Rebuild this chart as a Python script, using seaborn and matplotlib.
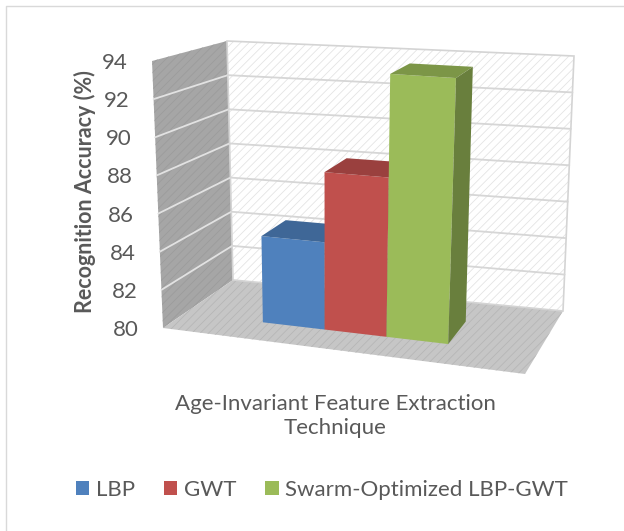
import numpy as np
import pandas as pd
import seaborn as sns
import matplotlib.pyplot as plt
import matplotlib.transforms as mtransforms
from matplotlib.colors import to_rgb
from matplotlib.patches import Rectangle

# dados
tecnicas = ["LBP", "GWT", "Swarm-Optimized LBP-GWT"]
acuracia = [84.6, 88.3, 93.7]
cores = ["#4F81BD", "#C0504D", "#9BBB59"]
ticks_y = [80, 82, 84, 86, 88, 90, 92, 94]
rotulo_y = "Recognition Accuracy (%)"
rotulo_x = "Age-Invariant Feature Extraction\nTechnique"

Y_MIN, Y_MAX = 80, 94

# cantos da "caixa" 3D em pixels: CAIXA[u][w][t]
# u = esquerda/direita, w = base/topo, t = frente/fundo
CAIXA = np.array([
    [[(163, 328), (233, 280)], [(152, 61), (227, 41)]],
    [[(525, 374), (563, 311)], [(540, 88), (574, 56)]],
], dtype=float)

U0, DU = 0.222, 0.1755      # início da primeira barra e largura de uma barra (em u)
T_FRENTE, T_FUNDO = 0.31, 0.69


def projetar(u, w, t):
    u = np.asarray(u, float)[..., None]
    w = np.asarray(w, float)[..., None]
    t = np.asarray(t, float)[..., None]
    out = 0
    for i, fu in ((0, 1 - u), (1, u)):
        for j, fw in ((0, 1 - w), (1, w)):
            for k, ft in ((0, 1 - t), (1, t)):
                out = out + fu * fw * ft * CAIXA[i, j, k]
    return out


def para_caixa(x, v):
    return U0 + (np.asarray(x) + 0.5) * DU, (np.asarray(v) - Y_MIN) / (Y_MAX - Y_MIN)


class PlanoBarras(mtransforms.Transform):
    # leva (posição categórica, valor) para o plano frontal das barras
    input_dims = 2
    output_dims = 2

    def __init__(self, t):
        super().__init__()
        self.t = t

    def transform_non_affine(self, values):
        values = np.asarray(values, float)
        u, w = para_caixa(values[:, 0], values[:, 1])
        return projetar(u, w, np.full(len(u), self.t))


sns.set_style("white")
plt.rcParams['font.family'] = ['Lato', 'DejaVu Sans']
plt.rcParams['hatch.linewidth'] = 0.6
COR_TEXTO = '#595959'

fig = plt.figure(figsize=(6.24, 5.31), dpi=100)
ax = fig.add_axes([0, 0, 1, 1])

df = pd.DataFrame({'tecnica': tecnicas, 'acuracia': acuracia})
df['acima'] = df.acuracia - Y_MIN

sns.barplot(data=df, x='tecnica', y='acima', hue='tecnica', palette=cores,
            saturation=1, width=1, bottom=Y_MIN, linewidth=0, ax=ax, legend=False,
            transform=PlanoBarras(T_FRENTE) + ax.transData)

barras = sorted(list(ax.patches), key=lambda b: b.get_x())
handles = [Rectangle((0, 0), 1, 1, facecolor=b.get_facecolor(), lw=0) for b in barras]


def face(us, ws, ts, **kw):
    pts = projetar(us, ws, ts)
    ax.fill(pts[:, 0], pts[:, 1], **kw)


# paredes e piso
face([0, 1, 1, 0], [0, 0, 1, 1], [1, 1, 1, 1], facecolor='white',
     edgecolor='#e4e4e4', hatch='////', lw=0, zorder=0)
face([0, 1, 1, 0], [0, 0, 1, 1], [1, 1, 1, 1], fill=False,
     edgecolor='#d4d4d4', lw=1.2, zorder=0.2)
face([0, 0, 0, 0], [0, 1, 1, 0], [0, 0, 1, 1], facecolor='#a6a6a6',
     edgecolor='#9c9c9c', hatch='////', lw=0, zorder=0)
face([0, 1, 1, 0], [0, 0, 0, 0], [0, 0, 1, 1], facecolor='#c6c6c6',
     edgecolor='#b6b6b6', hatch='////', lw=0, zorder=0)

# linhas de grade
for v in ticks_y[1:-1]:
    w = (v - Y_MIN) / (Y_MAX - Y_MIN)
    pts = projetar([0, 0, 1], [w, w, w], [0, 1, 1])
    ax.plot(pts[:2, 0], pts[:2, 1], color='#e2e2e2', lw=1.3, zorder=0.5)
    ax.plot(pts[1:, 0], pts[1:, 1], color='#d6d6d6', lw=1.3, zorder=0.5)

# topo e lateral das barras
for i, barra in enumerate(barras):
    barra.set_zorder(3 + 2 * i)
    x0, x1 = barra.get_x(), barra.get_x() + barra.get_width()
    v0, v1 = barra.get_y(), barra.get_y() + barra.get_height()
    u0, w0 = para_caixa(x0, v0)
    u1, w1 = para_caixa(x1, v1)
    base = np.array(to_rgb(barra.get_facecolor()))
    tf, tb = T_FRENTE, T_FUNDO
    face([u0, u1, u1, u0], [w1] * 4, [tf, tf, tb, tb], color=base * 0.8, lw=0, zorder=3.5 + 2 * i)
    face([u1] * 4, [w0, w1, w1, w0], [tf, tf, tb, tb], color=base * 0.68, lw=0, zorder=3.5 + 2 * i)

# rótulos do eixo y
for v in ticks_y:
    p = projetar(0, (v - Y_MIN) / (Y_MAX - Y_MIN), 0)
    ax.text(p[0] - 24, p[1] + 2, f"{v}", ha='right', va='center', fontsize=16, color=COR_TEXTO)

ax.text(85, 192, rotulo_y, rotation=90, ha='center', va='center',
        fontsize=15.5, fontweight='bold', color=COR_TEXTO)
ax.text(335, 416, rotulo_x, ha='center', va='center', fontsize=16,
        linespacing=1.25, color=COR_TEXTO)

fig.legend(handles, tecnicas, loc='center', bbox_to_anchor=(322 / 624, 1 - 490 / 531),
           ncol=3, frameon=False, fontsize=16, labelcolor=COR_TEXTO,
           handlelength=0.6, handleheight=0.6, handletextpad=0.3, columnspacing=1.3)

# borda da área do gráfico (só topo e esquerda aparecem no recorte)
ax.plot([6, 6, 624], [531, 6, 6], color='#d9d9d9', lw=1, zorder=0)

ax.set_xlim(0, 624)
ax.set_ylim(531, 0)
ax.axis('off')

plt.savefig('out.png', dpi=100)
